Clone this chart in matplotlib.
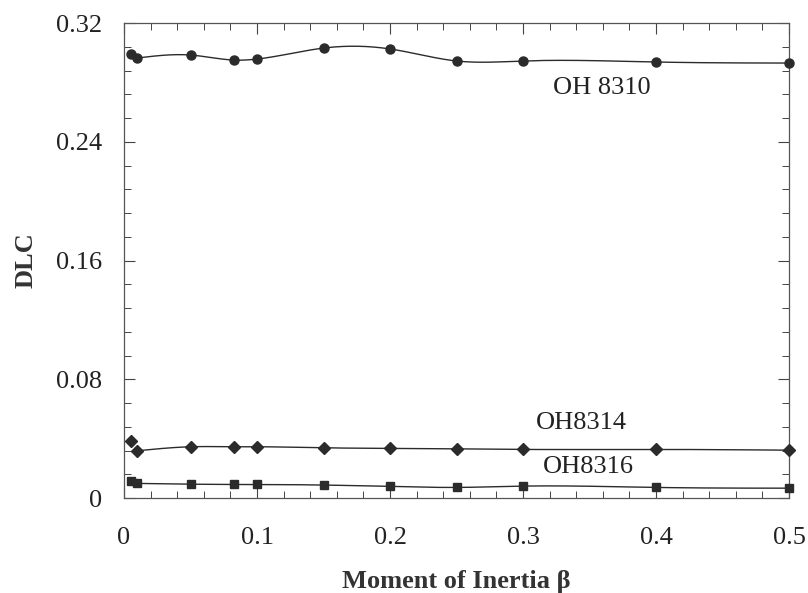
import numpy as np
import matplotlib
matplotlib.use("Agg")
import matplotlib.pyplot as plt
from matplotlib.ticker import MultipleLocator

beta = [0.005, 0.01, 0.05, 0.083, 0.1, 0.15, 0.2, 0.25, 0.3, 0.4, 0.5]
oh8310 = [0.2992, 0.2965, 0.2985, 0.2951, 0.2958, 0.3032, 0.3026, 0.2945, 0.2945, 0.2938, 0.2931]
oh8314 = [0.0386, 0.0319, 0.0346, 0.0346, 0.0346, 0.0339, 0.0335, 0.0332, 0.0328, 0.0328, 0.0323]
oh8316 = [0.0115, 0.0099, 0.0094, 0.0092, 0.0092, 0.0088, 0.0079, 0.0072, 0.0081, 0.0072, 0.0067]
series_labels = ["OH 8310", "OH8314", "OH8316"]
x_ticks = [0, 0.1, 0.2, 0.3, 0.4, 0.5]
y_ticks = [0, 0.08, 0.16, 0.24, 0.32]


def natural_spline(x, y, xs):
    x = np.asarray(x, float); y = np.asarray(y, float)
    n = len(x)
    h = np.diff(x)
    A = np.zeros((n, n)); r = np.zeros(n)
    A[0, 0] = 1; A[-1, -1] = 1
    for i in range(1, n - 1):
        A[i, i - 1] = h[i - 1]
        A[i, i] = 2 * (h[i - 1] + h[i])
        A[i, i + 1] = h[i]
        r[i] = 3 * ((y[i + 1] - y[i]) / h[i] - (y[i] - y[i - 1]) / h[i - 1])
    c = np.linalg.solve(A, r)
    b = (np.diff(y) / h) - h * (2 * c[:-1] + c[1:]) / 3
    d = np.diff(c) / (3 * h)
    idx = np.clip(np.searchsorted(x, xs) - 1, 0, n - 2)
    dx = xs - x[idx]
    return y[idx] + b[idx] * dx + c[idx] * dx ** 2 + d[idx] * dx ** 3


plt.rcParams['font.family'] = ['Liberation Serif', 'DejaVu Serif']
fig = plt.figure(figsize=(8.08, 5.93), dpi=100)
ax = fig.add_axes([0.1535, 0.160, 0.823, 0.801])

col = '#2b2b2b'
xs = np.linspace(beta[1], beta[-1], 600)
for ys, m, ms in [(oh8310, 'o', 6.5), (oh8314, 'D', 6.5), (oh8316, 's', 6)]:
    ax.plot(xs, natural_spline(beta[1:], ys[1:], xs), color=col, lw=1.0, clip_on=False)
    ax.plot(beta, ys, ls='none', marker=m, ms=ms, color=col, clip_on=False, zorder=3)

ax.text(0.359, 0.276, series_labels[0], fontsize=19, ha='center', va='center', color='#222')
ax.text(0.344, 0.0505, series_labels[1], fontsize=19, ha='center', va='center', color='#222')
ax.text(0.349, 0.0209, series_labels[2], fontsize=19, ha='center', va='center', color='#222')

ax.set_xlim(0, 0.5)
ax.set_ylim(0, 0.32)
ax.set_xticks(x_ticks)
ax.set_xticklabels(['0', '0.1', '0.2', '0.3', '0.4', '0.5'])
ax.set_yticks(y_ticks)
ax.set_yticklabels(['0', '0.08', '0.16', '0.24', '0.32'])
ax.xaxis.set_minor_locator(MultipleLocator(0.02))
ax.yaxis.set_minor_locator(MultipleLocator(0.016))
ax.tick_params(which='both', direction='in', top=True, right=True, colors='#444', labelcolor='#222')
ax.tick_params(which='major', length=8, width=0.8, labelsize=19)
ax.tick_params(which='minor', length=5, width=0.7)
ax.tick_params(axis='x', which='major', pad=21)
ax.tick_params(axis='y', which='major', pad=16)
for s in ax.spines.values():
    s.set_color('#555')
    s.set_linewidth(0.9)

ax.set_xlabel('Moment of Inertia β', fontsize=19, fontweight='bold', labelpad=15, color='#333')
ax.set_ylabel('DLC', fontsize=19, fontweight='bold', labelpad=13, color='#333')

fig.savefig('out.png', dpi=100, facecolor='white')
